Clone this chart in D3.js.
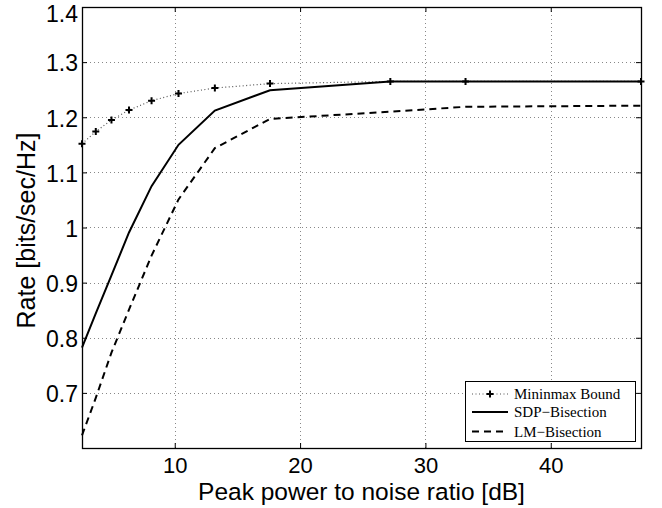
<!DOCTYPE html>
<html>
<head>
<meta charset="utf-8">
<script src="https://cdn.jsdelivr.net/npm/d3@7"></script>
<style>
  body { margin: 0; background: #fff; }
  svg { display: block; }
  .tick text { font-family: "Liberation Sans", Arial, sans-serif; }
</style>
</head>
<body>
<svg id="chart" width="662" height="508"></svg>
<script>
// peak power to noise ratio [dB]
const snr = [2.6, 3.7, 4.95, 6.35, 8.15, 10.3, 13.2, 17.6, 27.2, 33.2, 47.2];

const minimaxBound = [1.152, 1.174, 1.195, 1.213, 1.230, 1.243, 1.253, 1.261, 1.265, 1.265, 1.265];
const sdpBisection = [0.782, 0.844, 0.913, 0.991, 1.075, 1.150, 1.212, 1.249, 1.265, 1.265, 1.265];
const lmBisection  = [0.623, 0.691, 0.773, 0.851, 0.949, 1.051, 1.144, 1.197, 1.210, 1.219, 1.221];

const xTicks = [10, 20, 30, 40];
const yTicks = [0.7, 0.8, 0.9, 1, 1.1, 1.2, 1.3, 1.4];

const seriesNames = ["Mininmax Bound", "SDP\u2212Bisection", "LM\u2212Bisection"];

const margin = { top: 7, right: 21, bottom: 60, left: 82 };
const W = 662, H = 508;
const width = W - margin.left - margin.right;
const height = H - margin.top - margin.bottom;

const svg = d3.select("#chart");
const g = svg.append("g").attr("transform", `translate(${margin.left},${margin.top})`);

const x = d3.scaleLinear().domain([2.6, 47.2]).range([0, width]);
const y = d3.scaleLinear().domain([0.6, 1.4]).range([height, 0]);

// grid
const grid = g.append("g").attr("class", "grid")
  .attr("stroke", "#888").attr("stroke-width", 1).attr("stroke-dasharray", "1,3");
grid.selectAll(".gx").data(xTicks).enter().append("line")
  .attr("x1", d => Math.round(x(d)) + 0.5).attr("x2", d => Math.round(x(d)) + 0.5)
  .attr("y1", 0).attr("y2", height);
grid.selectAll(".gy").data(yTicks).enter().append("line")
  .attr("y1", d => Math.round(y(d)) + 0.5).attr("y2", d => Math.round(y(d)) + 0.5)
  .attr("x1", 0).attr("x2", width);

// axes (MATLAB style, ticks inward on all sides)
const fmt = d => d3.format("~g")(d);
const xAxis = g.append("g").attr("transform", `translate(0,${height})`)
  .call(d3.axisBottom(x).tickValues(xTicks).tickSizeInner(-5).tickSizeOuter(0).tickPadding(9).tickFormat(fmt));
const xTop = g.append("g")
  .call(d3.axisTop(x).tickValues(xTicks).tickSizeInner(-5).tickSizeOuter(0).tickFormat(""));
const yAxis = g.append("g")
  .call(d3.axisLeft(y).tickValues(yTicks).tickSizeInner(-5).tickSizeOuter(0).tickPadding(4).tickFormat(fmt));
const yRight = g.append("g").attr("transform", `translate(${width},0)`)
  .call(d3.axisRight(y).tickValues(yTicks).tickSizeInner(-5).tickSizeOuter(0).tickFormat(""));

[xAxis, xTop, yAxis, yRight].forEach(a => {
  a.select(".domain").remove();
  a.selectAll("line").attr("stroke", "#000").attr("stroke-width", 1);
});
xAxis.selectAll("text").attr("font-size", 22).attr("fill", "#000");
yAxis.selectAll("text").attr("font-size", 23).attr("fill", "#000")
  .attr("dy", d => d === 1.4 ? "0.62em" : "0.38em");

g.append("rect").attr("x", 0.5).attr("y", 0.5).attr("width", width).attr("height", height)
  .attr("fill", "none").attr("stroke", "#000").attr("stroke-width", 1.3);

// lines
const line = vals => d3.line().x((d, i) => x(snr[i])).y(d => y(d))(vals);

g.append("path").attr("d", line(minimaxBound)).attr("fill", "none")
  .attr("stroke", "#555").attr("stroke-width", 1.2).attr("stroke-dasharray", "1,2.5");
g.append("path").attr("d", line(sdpBisection)).attr("fill", "none")
  .attr("stroke", "#000").attr("stroke-width", 2);
g.append("path").attr("d", line(lmBisection)).attr("fill", "none")
  .attr("stroke", "#000").attr("stroke-width", 2).attr("stroke-dasharray", "7,5");

function plusMark(sel, cx, cy) {
  sel.append("path")
    .attr("d", `M${cx - 3.5},${cy}H${cx + 3.5}M${cx},${cy - 3.5}V${cy + 3.5}`)
    .attr("stroke", "#000").attr("stroke-width", 2);
}
minimaxBound.forEach((v, i) => plusMark(g, x(snr[i]), y(v)));

// legend
const lg = g.append("g").attr("transform", `translate(${465 - margin.left},${381 - margin.top})`);
lg.append("rect").attr("x", 0.5).attr("y", 0.5).attr("width", 170).attr("height", 60)
  .attr("fill", "#fff").attr("stroke", "#000").attr("stroke-width", 1);
const rows = [13, 31, 50.5];
const styles = [
  { stroke: "#555", w: 1.2, dash: "1,2.5" },
  { stroke: "#000", w: 2, dash: null },
  { stroke: "#000", w: 2, dash: "7,5" }
];
seriesNames.forEach((name, i) => {
  lg.append("line").attr("x1", 7).attr("x2", 43).attr("y1", rows[i]).attr("y2", rows[i])
    .attr("stroke", styles[i].stroke).attr("stroke-width", styles[i].w)
    .attr("stroke-dasharray", styles[i].dash);
  if (i === 0) plusMark(lg, 25, rows[i]);
  lg.append("text").attr("x", 49).attr("y", rows[i]).attr("dy", "0.35em")
    .attr("font-family", "'Liberation Serif', 'Times New Roman', serif")
    .attr("font-size", 15).text(name);
});

// axis labels
svg.append("text").attr("x", margin.left + width / 2).attr("y", 500)
  .attr("text-anchor", "middle").attr("font-family", "'Liberation Sans', Arial, sans-serif")
  .attr("font-size", 24.5).text("Peak power to noise ratio [dB]");
svg.append("text").attr("transform", `translate(35,${margin.top + height / 2 + 3}) rotate(-90)`)
  .attr("text-anchor", "middle").attr("font-family", "'Liberation Sans', Arial, sans-serif")
  .attr("font-size", 25).text("Rate [bits/sec/Hz]");
</script>
</body>
</html>
